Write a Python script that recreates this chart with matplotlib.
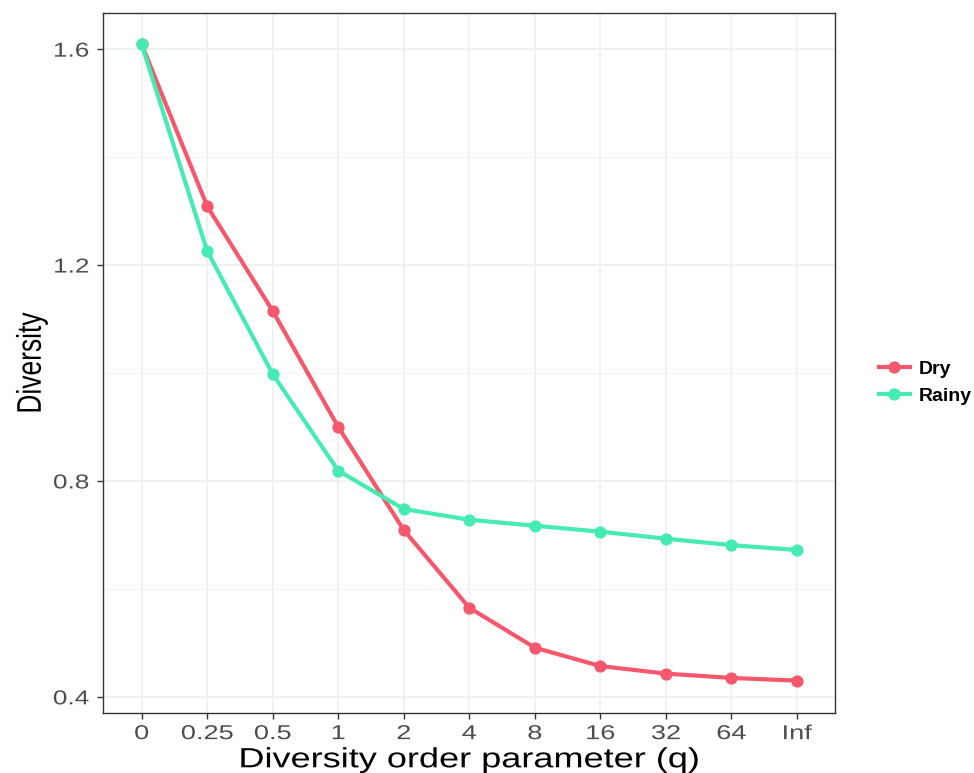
import matplotlib
matplotlib.use("Agg")
import matplotlib.pyplot as plt
from matplotlib.patheffects import AbstractPathEffect
from matplotlib.transforms import Affine2D
from matplotlib.ticker import MultipleLocator

# data
q_labels = ["0", "0.25", "0.5", "1", "2", "4", "8", "16", "32", "64", "Inf"]
dry = [1.609, 1.309, 1.115, 0.900, 0.709, 0.565, 0.491, 0.457, 0.443, 0.435, 0.430]
rainy = [1.609, 1.226, 0.998, 0.819, 0.748, 0.728, 0.717, 0.706, 0.693, 0.681, 0.672]
y_ticks = [0.4, 0.8, 1.2, 1.6]

DRY_COL = "#F5576C"
RAINY_COL = "#45EBB0"


class Widen(AbstractPathEffect):
    """stretch text glyphs (the reference text is distorted)"""
    def __init__(self, sx, sy=1.0, anchor="center"):
        super().__init__()
        self.sx = sx
        self.sy = sy
        self.anchor = anchor

    def draw_path(self, renderer, gc, tpath, affine, rgbFace=None):
        ext = tpath.get_extents()
        if self.anchor == "right":
            x0 = ext.x1
        else:
            x0 = (ext.x0 + ext.x1) / 2
        stretch = Affine2D().translate(-x0, 0).scale(self.sx, self.sy).translate(x0, 0)
        renderer.draw_path(gc, tpath, stretch + affine, rgbFace)


plt.rcParams["font.family"] = ["Liberation Sans", "DejaVu Sans"]

fig = plt.figure(figsize=(9.74, 7.73), dpi=100)
ax = fig.add_axes([0.1057, 0.0776, 0.7516, 0.9056])

x = list(range(len(q_labels)))
ax.plot(x, dry, color=DRY_COL, lw=3.0, marker="o", ms=7.8, label="Dry", zorder=3)
ax.plot(x, rainy, color=RAINY_COL, lw=3.0, marker="o", ms=7.8, label="Rainy", zorder=3)

ax.set_xlim(-0.59, 10.58)
ax.set_ylim(0.37, 1.667)
ax.set_xticks(x)
ax.set_xticklabels(q_labels)
ax.set_yticks(y_ticks)
ax.set_yticklabels([f"{v:.1f}" for v in y_ticks])
ax.yaxis.set_minor_locator(MultipleLocator(0.2))

ax.grid(which="major", color="#EBF0F0", lw=1.2)
ax.grid(which="minor", axis="y", color="#EFF3F3", lw=0.7)
ax.set_axisbelow(True)
ax.tick_params(which="minor", length=0)
ax.tick_params(which="major", length=4, width=1, color="#333333",
               labelsize=14.5, labelcolor="#4D4D4D")
ax.tick_params(axis="x", pad=4)
ax.tick_params(axis="y", pad=6)
for sp in ax.spines.values():
    sp.set_color("#333333")
    sp.set_linewidth(1.0)

for lab in ax.get_xticklabels():
    lab.set_path_effects([Widen(1.35)])
for lab in ax.get_yticklabels():
    lab.set_path_effects([Widen(1.3, anchor="right")])

ax.set_xlabel("Diversity order parameter (q)", fontsize=20, color="black", labelpad=3)
ax.xaxis.label.set_path_effects([Widen(1.3)])
ax.set_ylabel("Diversity", fontsize=19, color="black", labelpad=11)
ax.yaxis.label.set_path_effects([Widen(1.0, sy=1.3)])

leg = fig.legend(loc="center left", bbox_to_anchor=(0.884, 0.505), frameon=False,
                 handlelength=1.6, handletextpad=0.45, labelspacing=0.5,
                 prop={"size": 14, "weight": "bold"})

fig.savefig("out.png", dpi=100)
